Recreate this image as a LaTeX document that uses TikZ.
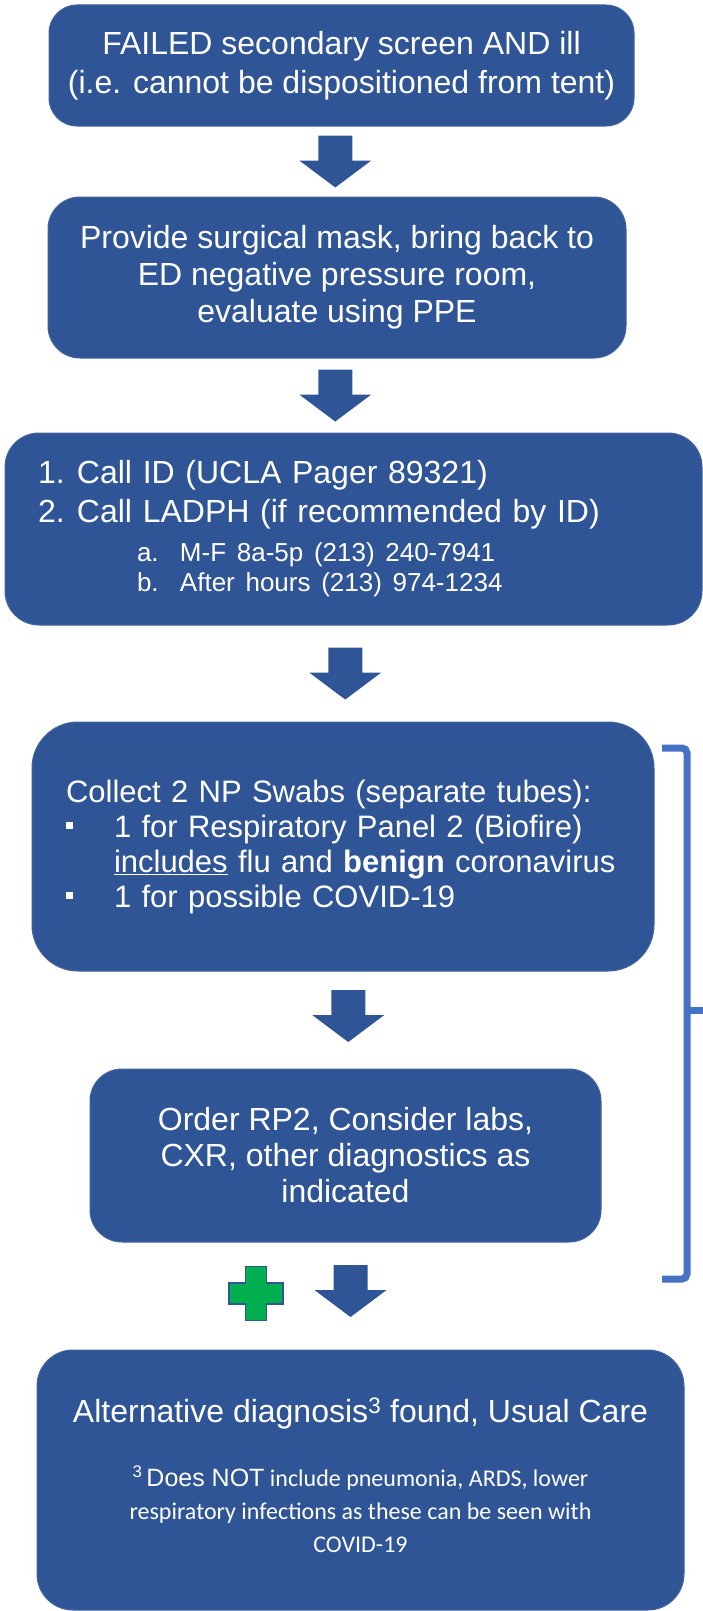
\documentclass[tikz,border=0pt]{standalone}
\usepackage{fontspec}
\setmainfont{Liberation Sans}
\newfontfamily\calibri{Carlito}
\usetikzlibrary{calc}
\definecolor{boxblue}{HTML}{2F5597}
\definecolor{edgeblue}{HTML}{41669E}
\definecolor{bracketblue}{HTML}{4472C4}
\definecolor{plusgreen}{HTML}{00B050}
\newcommand{\boxfont}{\fontsize{32}{39}\selectfont}
\newcommand{\sqbullet}{\makebox[48pt][l]{\rule[8pt]{7pt}{7pt}}}
\begin{document}
\begin{tikzpicture}[x=1pt,y=-1pt,
	box/.style={draw=edgeblue, fill=boxblue, text=white, line width=1pt, inner sep=0pt, align=center, font=\boxfont},
	downarrow/.pic={\fill[boxblue] (-17,-26) -- (17,-26) -- (17,-1) -- (36,-1) -- (0,26) -- (-36,-1) -- (-17,-1) -- cycle;}]
	\useasboundingbox (0,0) rectangle (703,1611);
	\node[box, minimum width=585pt, minimum height=121pt, rounded corners=28pt] (b1) at (341.5,65.5) {FAILED secondary screen AND ill\\(i.e. cannot be dispositioned from tent)};
	\node[box, minimum width=578pt, minimum height=161pt, rounded corners=32pt, font=\fontsize{32}{37}\selectfont] (b2) at (337,277.5) {Provide surgical mask, bring back to\\ED negative pressure room,\\evaluate using PPE};
	\node[box, minimum width=697pt, minimum height=192pt, rounded corners=34pt, text width=631pt, align=left] (b3) at (353.5,529) {\makebox[39pt][l]{1.}Call ID (UCLA Pager 89321)\\
		\makebox[39pt][l]{2.}Call LADPH (if recommended by ID)\\
		{\fontsize{26}{30}\selectfont\hspace*{99pt}\makebox[43pt][l]{a.}M-F 8a-5p (213) 240-7941}\\[-9pt]
		{\fontsize{26}{30}\selectfont\hspace*{99pt}\makebox[43pt][l]{b.}After hours (213) 974-1234}};
	\node[box, minimum width=622pt, minimum height=249pt, rounded corners=46pt, text width=554pt, align=left, font=\fontsize{31}{35}\selectfont] (b4) at (343,846.5) {\mbox{Collect 2 NP Swabs (separate tubes):}\\
		\mbox{\sqbullet 1 for Respiratory Panel 2 (Biofire)}\\
		\mbox{\hspace*{48pt}\underline{includes} flu and \textbf{benign} coronavirus}\\
		\mbox{\sqbullet 1 for possible COVID-19}};
	\node[box, minimum width=511pt, minimum height=173pt, rounded corners=32pt, font=\fontsize{32}{36}\selectfont] (b5) at (345.5,1155.5) {Order RP2, Consider labs,\\CXR, other diagnostics as\\indicated};
	\node[box, minimum width=647pt, minimum height=260pt, rounded corners=36pt] (b6) at (360.5,1480) {};
	\node[text=white, font=\boxfont] (t6) at ([yshift=67pt]b6.center) {Alternative diagnosis\textsuperscript{3} found, Usual Care};
	\node[text=white, align=center, font=\calibri\fontsize{24}{33}\selectfont] (n6) at ([yshift=-29.5pt]b6.center) {{\rmfamily\textsuperscript{3}\,\fontsize{25}{33}\selectfont Does NOT} include pneumonia, ARDS, lower\\respiratory infections as these can be seen with\\COVID-19};
	% block arrows between the steps
	\path (b1.south) -- (b2.north) coordinate[pos=.5] (m1);
	\path (b2.south) -- (b3.north) coordinate[pos=.5] (m2);
	\path (b3.south) -- (b4.north) coordinate[pos=.5] (m3);
	\path (b4.south) -- (b5.north) coordinate[pos=.5] (m4);
	\path (b5.south) -- (b6.north) coordinate[pos=.5] (m5);
	\pic at ([xshift=-4pt]m1) {downarrow};
	\pic at ([xshift=-10pt]m2) {downarrow};
	\pic at ([xshift=-3pt]m3) {downarrow};
	\pic at ([shift={(4,-4)}]m4) {downarrow};
	\pic at ([shift={(-2.5,-5)}]m5) {downarrow};
	\filldraw[fill=plusgreen, draw=boxblue, line width=1.5pt, shift={(256,1293.5)}] (-10.5,-27) -- (10.5,-27) -- (10.5,-10.5) -- (27,-10.5) -- (27,10.5) -- (10.5,10.5) -- (10.5,27) -- (-10.5,27) -- (-10.5,10.5) -- (-27,10.5) -- (-27,-10.5) -- (-10.5,-10.5) -- cycle;
	\draw[bracketblue, line width=7pt, rounded corners=5pt] (662,748) -- (687,748) -- (687,1279) -- (662,1279);
	\draw[bracketblue, line width=7pt] (687,1010) -- (703,1010);
\end{tikzpicture}
\end{document}
